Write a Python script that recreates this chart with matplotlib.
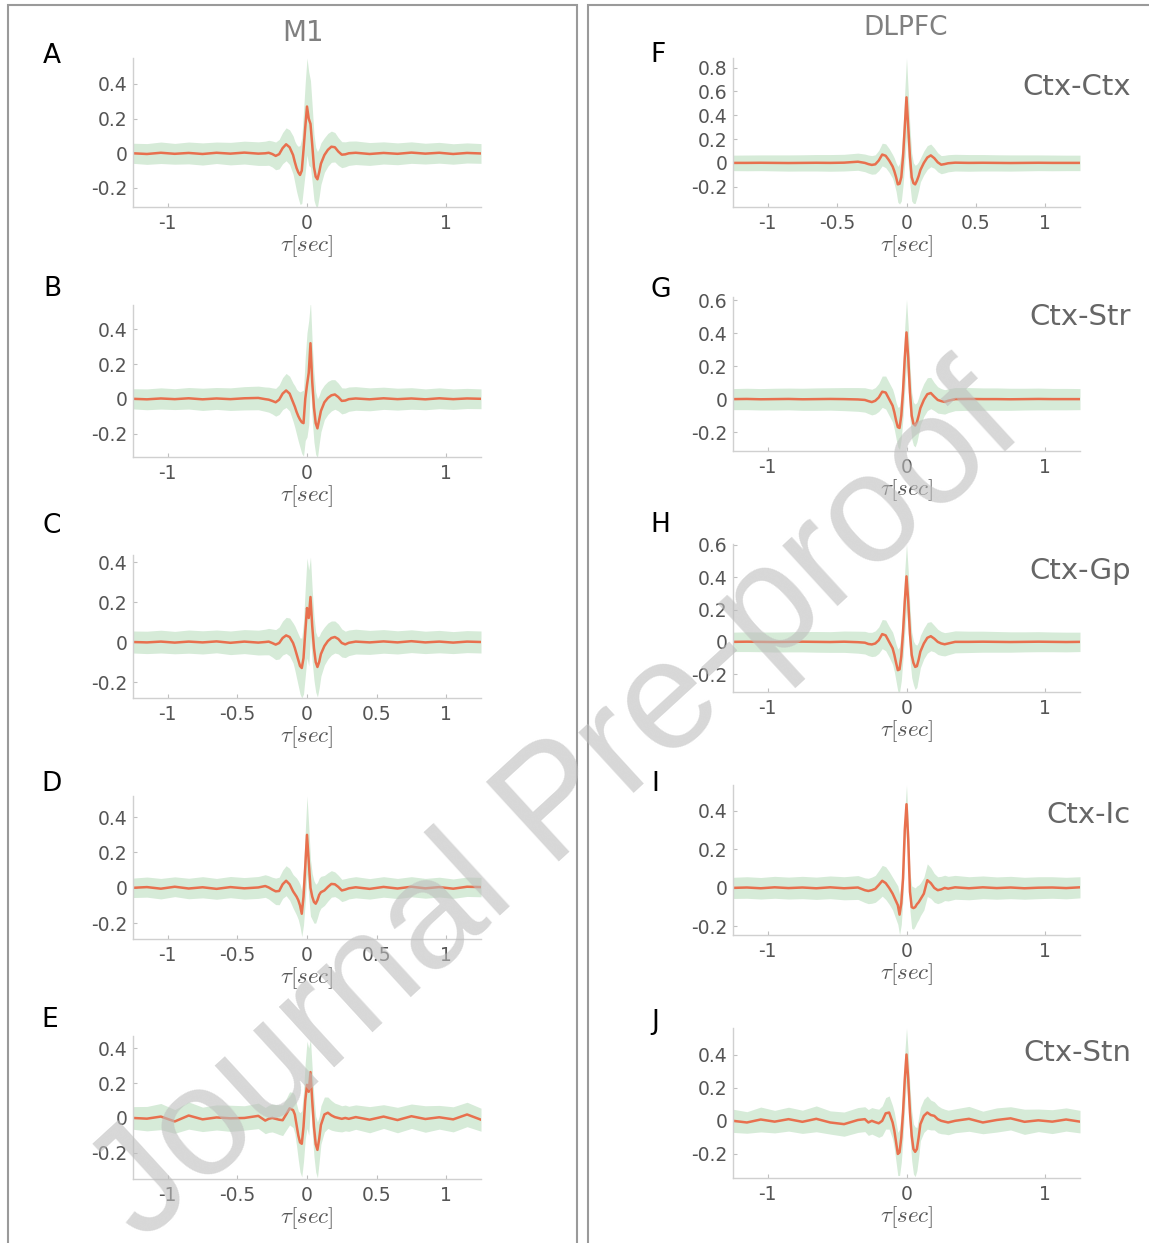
import numpy as np
import matplotlib.pyplot as plt
from matplotlib.patches import Rectangle
from matplotlib.ticker import FormatStrFormatter

plt.rcParams['font.family'] = ['DejaVu Sans']
plt.rcParams['mathtext.fontset'] = 'cm'
plt.rcParams['axes.unicode_minus'] = False

# lag axis (sec), shared by every panel
tau = [-1.25, -1.15, -1.05, -0.95, -0.85, -0.75, -0.65, -0.55, -0.45, -0.35,
       -0.3, -0.275, -0.25, -0.225, -0.2, -0.175, -0.15, -0.125,
       -0.1, -0.0875, -0.075, -0.0625, -0.05, -0.0375, -0.025, -0.0125, 0.0,
       0.0125, 0.025, 0.0375, 0.05, 0.0625, 0.075, 0.0875, 0.1,
       0.125, 0.15, 0.175, 0.2, 0.225, 0.25, 0.275, 0.3,
       0.35, 0.45, 0.55, 0.65, 0.75, 0.85, 0.95, 1.05, 1.15, 1.25]

# M1 (left column)
a_mean = [0.0, -0.004, 0.003, -0.003, 0.002, -0.004, 0.003, -0.002, 0.004, -0.002,
          0.0, 0.003, -0.004, -0.015, -0.005, 0.03, 0.052, 0.035,
          -0.01, -0.05, -0.085, -0.11, -0.125, -0.1, 0.02, 0.15, 0.27, 0.2, 0.17, 0.05, -0.08, -0.135, -0.15, -0.11, -0.06,
          -0.01, 0.02, 0.038, 0.035, 0.01, -0.008, -0.006, 0.0,
          0.003, -0.004, 0.002, -0.003, 0.004, -0.002, 0.003, -0.004, 0.002, -0.001]
a_sd = [0.058, 0.06, 0.062, 0.06, 0.063, 0.064, 0.062, 0.065, 0.066, 0.068,
        0.07, 0.072, 0.075, 0.08, 0.085, 0.09, 0.095, 0.1,
        0.11, 0.12, 0.135, 0.15, 0.17, 0.19, 0.22, 0.26, 0.28, 0.27, 0.25, 0.22, 0.19, 0.17, 0.16, 0.14, 0.12,
        0.1, 0.095, 0.09, 0.085, 0.08, 0.075, 0.072, 0.07,
        0.068, 0.066, 0.064, 0.063, 0.062, 0.06, 0.06, 0.059, 0.058, 0.057]

b_mean = [0.0, -0.003, 0.002, -0.002, 0.003, -0.003, 0.002, -0.002, 0.003, 0.005,
          -0.002, -0.005, -0.012, -0.02, -0.005, 0.03, 0.048, 0.03,
          -0.02, -0.045, -0.075, -0.1, -0.12, -0.135, -0.14, 0.0, 0.08, 0.15, 0.32, 0.1, -0.05, -0.14, -0.17, -0.12, -0.07,
          -0.02, 0.005, 0.02, 0.025, 0.01, -0.012, -0.01, -0.002,
          0.002, -0.003, 0.003, -0.002, 0.002, -0.003, 0.003, -0.002, 0.002, 0.0]
b_sd = [0.058, 0.06, 0.061, 0.06, 0.062, 0.064, 0.063, 0.065, 0.067, 0.068,
        0.07, 0.072, 0.075, 0.08, 0.085, 0.092, 0.098, 0.1,
        0.11, 0.12, 0.13, 0.145, 0.16, 0.18, 0.19, 0.24, 0.3, 0.3, 0.24, 0.22, 0.2, 0.18, 0.17, 0.14, 0.12,
        0.1, 0.095, 0.09, 0.085, 0.08, 0.075, 0.072, 0.07,
        0.068, 0.066, 0.064, 0.063, 0.062, 0.06, 0.06, 0.059, 0.058, 0.057]

c_mean = [0.0, -0.002, 0.002, -0.003, 0.002, -0.002, 0.003, -0.004, 0.002, -0.003,
          0.0, 0.002, -0.005, -0.013, -0.005, 0.02, 0.033, 0.025,
          -0.005, -0.03, -0.06, -0.09, -0.12, -0.13, -0.08, 0.05, 0.17, 0.12, 0.225, 0.08, -0.03, -0.1, -0.125, -0.1, -0.06,
          -0.02, 0.005, 0.02, 0.025, 0.015, -0.005, -0.012, -0.004,
          0.002, -0.002, 0.003, -0.002, 0.004, -0.002, 0.002, -0.003, 0.002, 0.0]
c_sd = [0.055, 0.056, 0.057, 0.056, 0.058, 0.058, 0.057, 0.059, 0.06, 0.062,
        0.064, 0.066, 0.07, 0.075, 0.08, 0.085, 0.09, 0.095,
        0.1, 0.11, 0.12, 0.13, 0.14, 0.15, 0.18, 0.22, 0.25, 0.24, 0.2, 0.18, 0.16, 0.15, 0.15, 0.13, 0.11,
        0.095, 0.09, 0.085, 0.08, 0.075, 0.07, 0.066, 0.064,
        0.062, 0.06, 0.059, 0.058, 0.057, 0.056, 0.056, 0.055, 0.055, 0.055]

d_mean = [0.0, 0.004, -0.005, 0.006, -0.004, 0.003, -0.006, 0.004, -0.003, 0.002,
          0.01, 0.002, -0.01, -0.02, -0.018, 0.02, 0.04, 0.02,
          -0.02, -0.035, -0.05, -0.07, -0.1, -0.147, -0.05, 0.12, 0.3, 0.15, 0.0, -0.05, -0.08, -0.09, -0.07, -0.04, -0.025,
          -0.015, 0.005, 0.022, 0.02, 0.005, -0.015, -0.01, -0.003,
          0.003, -0.006, 0.005, -0.004, 0.006, -0.003, 0.004, -0.005, 0.006, 0.004]
d_sd = [0.055, 0.057, 0.058, 0.056, 0.058, 0.06, 0.059, 0.06, 0.061, 0.062,
        0.064, 0.066, 0.07, 0.075, 0.078, 0.08, 0.085, 0.09,
        0.095, 0.1, 0.105, 0.11, 0.12, 0.13, 0.16, 0.2, 0.22, 0.2, 0.16, 0.13, 0.12, 0.11, 0.1, 0.095, 0.09,
        0.085, 0.08, 0.075, 0.07, 0.066, 0.063, 0.062, 0.06,
        0.06, 0.058, 0.058, 0.057, 0.057, 0.056, 0.056, 0.055, 0.055, 0.055]

e_mean = [0.0, -0.004, 0.008, -0.02, 0.014, -0.008, 0.003, -0.002, 0.0, 0.012,
          -0.015, -0.005, 0.0, -0.005, -0.01, -0.013, 0.02, 0.055,
          0.045, 0.02, -0.04, -0.1, -0.14, -0.148, -0.05, 0.1, 0.19, 0.15, 0.263, 0.1, -0.05, -0.15, -0.183, -0.12, -0.04,
          0.02, 0.03, 0.015, 0.005, 0.0, -0.005, 0.0, -0.005,
          0.005, -0.01, 0.008, -0.012, 0.01, -0.006, 0.004, -0.008, 0.02, -0.01]
e_sd = [0.065, 0.07, 0.075, 0.068, 0.078, 0.07, 0.072, 0.075, 0.07, 0.073,
        0.075, 0.078, 0.08, 0.082, 0.085, 0.088, 0.09, 0.095,
        0.1, 0.11, 0.12, 0.14, 0.17, 0.19, 0.2, 0.22, 0.25, 0.25, 0.19, 0.18, 0.17, 0.16, 0.16, 0.13, 0.11,
        0.1, 0.09, 0.085, 0.08, 0.078, 0.075, 0.074, 0.072,
        0.07, 0.075, 0.068, 0.073, 0.07, 0.076, 0.068, 0.072, 0.07, 0.066]

# DLPFC (right column)
f_mean = [0.0, 0.0, 0.001, 0.0, -0.001, 0.0, 0.001, 0.0, 0.002, 0.01,
          0.0, -0.01, -0.017, -0.012, 0.02, 0.07, 0.06, 0.02,
          -0.03, -0.07, -0.12, -0.18, -0.175, -0.12, 0.05, 0.3, 0.55, 0.3, 0.05, -0.12, -0.17, -0.18, -0.15, -0.11, -0.06,
          0.0, 0.045, 0.063, 0.04, 0.005, -0.015, -0.01, -0.003,
          0.002, 0.0, 0.001, 0.0, -0.001, 0.0, 0.001, 0.0, 0.0, 0.0]
f_sd = [0.065, 0.066, 0.066, 0.067, 0.068, 0.068, 0.069, 0.07, 0.07, 0.072,
        0.074, 0.076, 0.078, 0.08, 0.085, 0.095, 0.1, 0.1,
        0.1, 0.11, 0.12, 0.15, 0.17, 0.2, 0.24, 0.3, 0.33, 0.3, 0.24, 0.2, 0.17, 0.16, 0.14, 0.12, 0.1,
        0.1, 0.1, 0.095, 0.085, 0.08, 0.076, 0.074, 0.072,
        0.07, 0.07, 0.069, 0.068, 0.068, 0.067, 0.066, 0.066, 0.065, 0.065]

g_mean = [0.0, 0.001, -0.001, 0.0, 0.001, -0.001, 0.0, 0.001, 0.0, -0.002,
          -0.005, -0.012, -0.018, -0.01, 0.01, 0.045, 0.04, 0.0,
          -0.04, -0.08, -0.13, -0.17, -0.175, -0.1, 0.05, 0.25, 0.405, 0.25, 0.04, -0.1, -0.15, -0.16, -0.14, -0.1, -0.055,
          -0.005, 0.03, 0.037, 0.015, -0.005, -0.012, -0.017, -0.01,
          0.0, 0.001, 0.0, 0.0, -0.001, 0.0, 0.001, 0.0, 0.0, 0.0]
g_sd = [0.064, 0.065, 0.065, 0.066, 0.066, 0.067, 0.068, 0.068, 0.07, 0.072,
        0.074, 0.076, 0.078, 0.08, 0.085, 0.095, 0.1, 0.1,
        0.1, 0.105, 0.11, 0.12, 0.13, 0.14, 0.16, 0.19, 0.2, 0.19, 0.16, 0.14, 0.13, 0.13, 0.12, 0.11, 0.1,
        0.1, 0.1, 0.095, 0.085, 0.08, 0.076, 0.074, 0.072,
        0.07, 0.069, 0.068, 0.068, 0.067, 0.066, 0.066, 0.065, 0.065, 0.064]

h_mean = [0.0, 0.001, 0.0, -0.001, 0.0, 0.001, 0.0, -0.001, 0.001, -0.002,
          -0.005, -0.013, -0.016, -0.01, 0.01, 0.048, 0.04, 0.0,
          -0.04, -0.08, -0.13, -0.175, -0.17, -0.09, 0.06, 0.25, 0.405, 0.25, 0.05, -0.08, -0.13, -0.155, -0.15, -0.11, -0.06,
          -0.01, 0.025, 0.035, 0.02, 0.0, -0.01, -0.015, -0.01,
          0.0, 0.0, 0.001, 0.0, -0.001, 0.0, 0.001, 0.0, -0.001, 0.0]
h_sd = [0.06, 0.061, 0.061, 0.062, 0.062, 0.063, 0.064, 0.064, 0.066, 0.068,
        0.07, 0.072, 0.075, 0.078, 0.082, 0.09, 0.095, 0.095,
        0.1, 0.105, 0.115, 0.13, 0.14, 0.15, 0.16, 0.19, 0.2, 0.19, 0.16, 0.14, 0.135, 0.14, 0.13, 0.11, 0.1,
        0.095, 0.095, 0.09, 0.082, 0.078, 0.074, 0.072, 0.07,
        0.068, 0.066, 0.065, 0.064, 0.063, 0.062, 0.062, 0.061, 0.061, 0.06]

i_mean = [0.0, 0.002, -0.002, 0.003, -0.001, 0.002, -0.002, 0.003, -0.002, 0.002,
          -0.012, -0.016, -0.012, -0.005, 0.015, 0.037, 0.025, 0.0,
          -0.03, -0.05, -0.07, -0.09, -0.139, -0.08, 0.05, 0.3, 0.435, 0.25, -0.02, -0.1, -0.105, -0.1, -0.085, -0.075, -0.06,
          -0.03, 0.04, 0.025, 0.0, -0.012, -0.008, 0.0, -0.004,
          0.003, -0.002, 0.003, -0.001, 0.002, -0.002, 0.001, 0.002, -0.001, 0.003]
i_sd = [0.055, 0.056, 0.056, 0.057, 0.057, 0.058, 0.058, 0.059, 0.06, 0.062,
        0.064, 0.066, 0.068, 0.07, 0.075, 0.08, 0.085, 0.085,
        0.085, 0.09, 0.095, 0.1, 0.105, 0.11, 0.1, 0.1, 0.1, 0.1, 0.1, 0.11, 0.11, 0.1, 0.095, 0.09, 0.085,
        0.085, 0.085, 0.08, 0.075, 0.07, 0.068, 0.066, 0.064,
        0.062, 0.06, 0.059, 0.058, 0.058, 0.057, 0.057, 0.056, 0.056, 0.055]

j_mean = [0.0, -0.01, 0.008, -0.005, 0.01, -0.006, 0.012, -0.01, -0.02, 0.005,
          0.01, -0.01, 0.0, -0.008, -0.015, 0.0, 0.045, 0.05,
          -0.01, -0.06, -0.13, -0.2, -0.19, -0.1, 0.05, 0.25, 0.4, 0.25, 0.05, -0.09, -0.17, -0.187, -0.17, -0.1, -0.02,
          0.03, 0.05, 0.035, 0.03, 0.01, 0.0, -0.005, -0.01,
          0.0, 0.012, -0.01, 0.005, 0.015, -0.006, 0.003, -0.005, 0.008, -0.005]
j_sd = [0.07, 0.065, 0.075, 0.068, 0.072, 0.07, 0.078, 0.07, 0.073, 0.075,
        0.075, 0.078, 0.08, 0.082, 0.085, 0.09, 0.095, 0.1,
        0.1, 0.11, 0.12, 0.13, 0.14, 0.15, 0.15, 0.16, 0.16, 0.16, 0.15, 0.15, 0.15, 0.15, 0.13, 0.12, 0.1,
        0.1, 0.1, 0.09, 0.085, 0.082, 0.078, 0.075, 0.074,
        0.072, 0.075, 0.068, 0.073, 0.07, 0.076, 0.068, 0.072, 0.07, 0.068]

W, H = 1149, 1243
LINE = '#e8704e'
BAND = '#d6ebd8'
GREY_TXT = '#555555'

def box(x0, x1, y0, y1):
    # pixel box (top-left origin) -> figure fraction
    return [x0 / W, 1 - y1 / H, (x1 - x0) / W, (y1 - y0) / H]

# letter, mean, sd, column x-range, y-range (px), ylim, yticks, xticks, label, letter pos
yt4 = [-0.2, 0, 0.2, 0.4]
x3 = [-1, 0, 1]
x5 = [-1, -0.5, 0, 0.5, 1]
panels = [
    ('A', a_mean, a_sd, (133, 481), (58, 207), (-0.31, 0.55), yt4, x3, None, (52, 56)),
    ('B', b_mean, b_sd, (133, 481), (305, 457), (-0.335, 0.54), yt4, x3, None, (52, 289)),
    ('C', c_mean, c_sd, (133, 481), (555, 698), (-0.28, 0.435), yt4, x5, None, (52, 526)),
    ('D', d_mean, d_sd, (133, 481), (796, 939), (-0.29, 0.52), yt4, x5, None, (52, 784)),
    ('E', e_mean, e_sd, (133, 481), (1036, 1179), (-0.35, 0.47), yt4, x5, None, (50, 1020)),
    ('F', f_mean, f_sd, (733, 1080), (58, 207), (-0.37, 0.88), [-0.2, 0, 0.2, 0.4, 0.6, 0.8], x5, ('Ctx-Ctx', 87), (658, 55)),
    ('G', g_mean, g_sd, (733, 1080), (297, 451), (-0.315, 0.62), [-0.2, 0, 0.2, 0.4, 0.6], x3, ('Ctx-Str', 317), (661, 290)),
    ('H', h_mean, h_sd, (733, 1080), (544, 692), (-0.31, 0.605), [-0.2, 0, 0.2, 0.4, 0.6], x3, ('Ctx-Gp', 571), (660, 525)),
    ('I', i_mean, i_sd, (733, 1080), (785, 935), (-0.245, 0.535), yt4, x3, ('Ctx-Ic', 815), (655, 784)),
    ('J', j_mean, j_sd, (733, 1080), (1028, 1178), (-0.345, 0.56), yt4, x3, ('Ctx-Stn', 1053), (655, 1022)),
]

fig = plt.figure(figsize=(W / 100, H / 100), dpi=100)

# panel frames
fig.patches.append(Rectangle((8 / W, -0.01), (577 - 8) / W, 1.006, transform=fig.transFigure,
                             fill=False, edgecolor='#9a9a9a', lw=1.5))
fig.patches.append(Rectangle((588 / W, -0.01), 0.6, 1.006, transform=fig.transFigure,
                             fill=False, edgecolor='#9a9a9a', lw=1.5))

t = np.array(tau)
for letter, mean, sd, (x0, x1), (y0, y1), ylim, yt, xt, region, (lx, ly) in panels:
    ax = fig.add_axes(box(x0, x1, y0, y1))
    m = np.array(mean)
    s = np.array(sd)
    ax.fill_between(t, m - s, m + s, color=BAND, lw=0)
    ax.plot(t, m, color=LINE, lw=1.8)
    ax.set_xlim(-1.25, 1.25)
    ax.set_ylim(ylim)
    ax.set_xticks(xt)
    ax.set_yticks(yt)
    ax.xaxis.set_major_formatter(FormatStrFormatter('%g'))
    ax.yaxis.set_major_formatter(FormatStrFormatter('%g'))
    for side in ['top', 'right']:
        ax.spines[side].set_visible(False)
    for side in ['left', 'bottom']:
        ax.spines[side].set_color('#d0d0d0')
        ax.spines[side].set_linewidth(1.0)
    ax.tick_params(direction='in', length=3, width=0.8, color='#c0c0c0',
                   labelcolor=GREY_TXT, labelsize=13.5)
    ax.tick_params(axis='x', pad=5)
    ax.tick_params(axis='y', pad=4)
    ax.set_xlabel(r'$\tau[sec]$', fontsize=16.5, color=GREY_TXT, labelpad=0)
    fig.text(lx / W, 1 - ly / H, letter, fontsize=19, color='black', ha='center', va='center')
    if region:
        fig.text(1131 / W, 1 - region[1] / H, region[0], fontsize=21, color='#666666',
                 ha='right', va='center')

fig.text(303 / W, 1 - 33 / H, 'M1', fontsize=20, color='#808080', ha='center', va='center')
fig.text(906 / W, 1 - 28 / H, 'DLPFC', fontsize=19, color='#808080', ha='center', va='center')

# watermark
fig.text(558 / W, 1 - 808 / H, 'Journal Pre-proof', rotation=42.5, fontsize=112,
         family='Liberation Sans', color='#bdbdbd', alpha=0.6,
         ha='center', va='center', rotation_mode='anchor', zorder=10)

fig.savefig('out.png', dpi=100)
